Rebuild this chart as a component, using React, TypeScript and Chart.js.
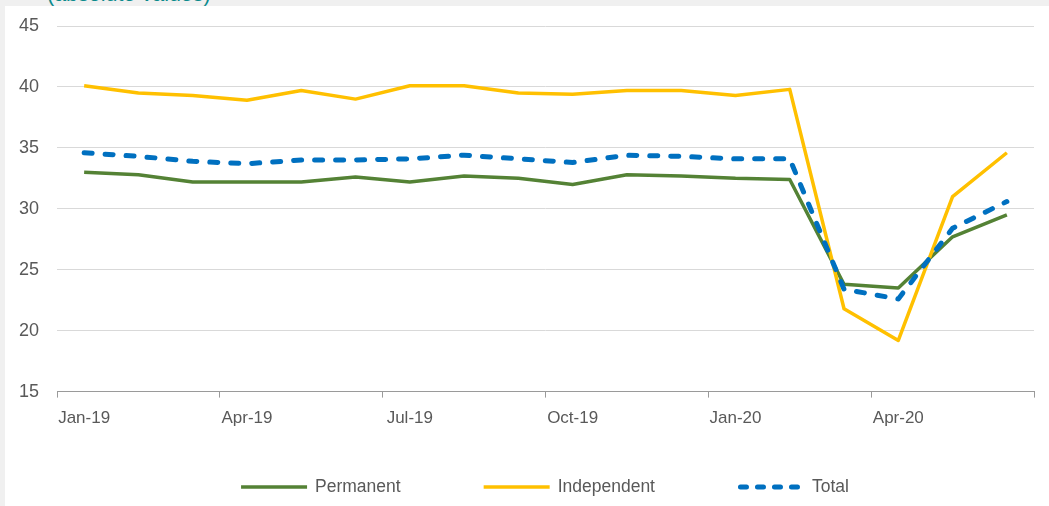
import React, { useEffect, useRef } from 'react';
import { Chart, registerables } from 'chart.js';

Chart.register(...registerables);

const months = [
  'Jan-19', 'Feb-19', 'Mar-19', 'Apr-19', 'May-19', 'Jun-19',
  'Jul-19', 'Aug-19', 'Sep-19', 'Oct-19', 'Nov-19', 'Dec-19',
  'Jan-20', 'Feb-20', 'Mar-20', 'Apr-20', 'May-20', 'Jun-20',
];
const permanent = [33.0, 32.8, 32.2, 32.2, 32.2, 32.6, 32.2, 32.7, 32.5, 32.0, 32.8, 32.7, 32.5, 32.4, 23.8, 23.5, 27.7, 29.5];
const independent = [40.1, 39.5, 39.3, 38.9, 39.7, 39.0, 40.1, 40.1, 39.5, 39.4, 39.7, 39.7, 39.3, 39.8, 21.8, 19.2, 31.0, 34.6];
const total = [34.6, 34.3, 33.9, 33.7, 34.0, 34.0, 34.1, 34.4, 34.1, 33.8, 34.4, 34.3, 34.1, 34.1, 23.4, 22.6, 28.4, 30.6];
const seriesNames = ['Permanent', 'Independent', 'Total'];
const yMin = 15;
const yMax = 45;
const yStep = 5;

const FONT = "'Liberation Sans', Arial, sans-serif";
const TEXT = '#595959';

const legendPlugin = {
  id: 'customLegend',
  afterDraw(chart: any) {
    const ctx = chart.ctx;
    const sampleW = 66;
    const gap = 8;
    const itemGap = 83;
    const centerX = 540;
    const y = 481;
    ctx.save();
    ctx.font = `17.5px ${FONT}`;
    const items = chart.data.datasets.map((ds: any) => ({
      ds,
      w: ctx.measureText(ds.label).width,
    }));
    const totalW = items.reduce((s: number, it: any) => s + sampleW + gap + it.w, 0) + itemGap * (items.length - 1);
    let x = centerX - totalW / 2;
    items.forEach((it: any) => {
      const ds = it.ds;
      ctx.beginPath();
      ctx.strokeStyle = ds.borderColor;
      ctx.lineWidth = ds.borderWidth;
      ctx.lineCap = ds.borderCapStyle || 'butt';
      ctx.setLineDash(ds.borderDash ? [6, 11] : []);
      const inset = ds.borderCapStyle === 'round' ? ds.borderWidth / 2 : 0;
      ctx.moveTo(x + inset, y);
      ctx.lineTo(x + sampleW - inset, y);
      ctx.stroke();
      ctx.setLineDash([]);
      ctx.fillStyle = TEXT;
      ctx.textBaseline = 'middle';
      ctx.textAlign = 'left';
      ctx.fillText(ds.label, x + sampleW + gap, y);
      x += sampleW + gap + it.w + itemGap;
    });
    ctx.restore();
  },
};

function ChartCanvas() {
  const ref = useRef<HTMLCanvasElement | null>(null);
  useEffect(() => {
    if (!ref.current) return;
    const chart = new Chart(ref.current, {
      type: 'line',
      data: {
        labels: months,
        datasets: [
          {
            label: seriesNames[0],
            data: permanent,
            borderColor: '#548235',
            borderWidth: 3.5,
            pointRadius: 0,
            borderJoinStyle: 'round',
            tension: 0,
            order: 3,
          },
          {
            label: seriesNames[1],
            data: independent,
            borderColor: '#FFC000',
            borderWidth: 3.5,
            pointRadius: 0,
            borderJoinStyle: 'round',
            tension: 0,
            order: 2,
          },
          {
            label: seriesNames[2],
            data: total,
            borderColor: '#0070C0',
            borderWidth: 5,
            borderDash: [8, 13],
            borderCapStyle: 'round',
            pointRadius: 0,
            borderJoinStyle: 'round',
            tension: 0,
            order: 1,
          },
        ],
      },
      options: {
        responsive: false,
        animation: false,
        devicePixelRatio: 1,
        layout: { padding: { left: 0, right: 15, top: 20, bottom: 66 } },
        plugins: {
          legend: { display: false },
          tooltip: { enabled: false },
          title: { display: false },
        },
        scales: {
          x: {
            type: 'category',
            offset: true,
            grid: {
              offset: true,
              drawOnChartArea: false,
              drawTicks: true,
              tickLength: 6,
              color: (c: any) => (c.index === undefined || c.index % 3 === 0 ? '#9a9a9a' : 'rgba(0,0,0,0)'),
            },
            border: { display: true, color: '#9a9a9a', width: 1 },
            ticks: {
              autoSkip: false,
              maxRotation: 0,
              minRotation: 0,
              padding: 11,
              color: TEXT,
              font: { family: FONT, size: 17 },
              callback: function (this: any, v: any, i: number) {
                return i % 3 === 0 ? months[i] : '';
              },
            },
          },
          y: {
            min: yMin,
            max: yMax,
            afterFit: (s: any) => {
              s.width = 52;
              s.paddingTop = 0;
              s.paddingBottom = 0;
            },
            grid: { color: '#d9d9d9', lineWidth: 1, drawTicks: false },
            border: { display: false },
            ticks: {
              stepSize: yStep,
              padding: 18,
              color: TEXT,
              font: { family: FONT, size: 18 },
            },
          },
        },
      },
      plugins: [legendPlugin],
    });
    return () => chart.destroy();
  }, []);
  return <canvas ref={ref} width={1044} height={500} style={{ display: 'block', width: 1044, height: 500 }} />;
}

export default function App() {
  return (
    <div style={{ position: 'fixed', left: 0, top: 0, width: 1049, height: 506, background: '#f0f0f0', overflow: 'hidden' }}>
      <div
        style={{
          position: 'absolute',
          left: 47,
          top: -16,
          fontFamily: FONT,
          fontSize: 21.5,
          lineHeight: '21.5px',
          color: '#0b8a8c',
          whiteSpace: 'nowrap',
        }}
      >
        (absolute values)
      </div>
      <div style={{ position: 'absolute', left: 5, top: 6, width: 1044, height: 500, background: '#ffffff' }}>
        <ChartCanvas />
      </div>
    </div>
  );
}
